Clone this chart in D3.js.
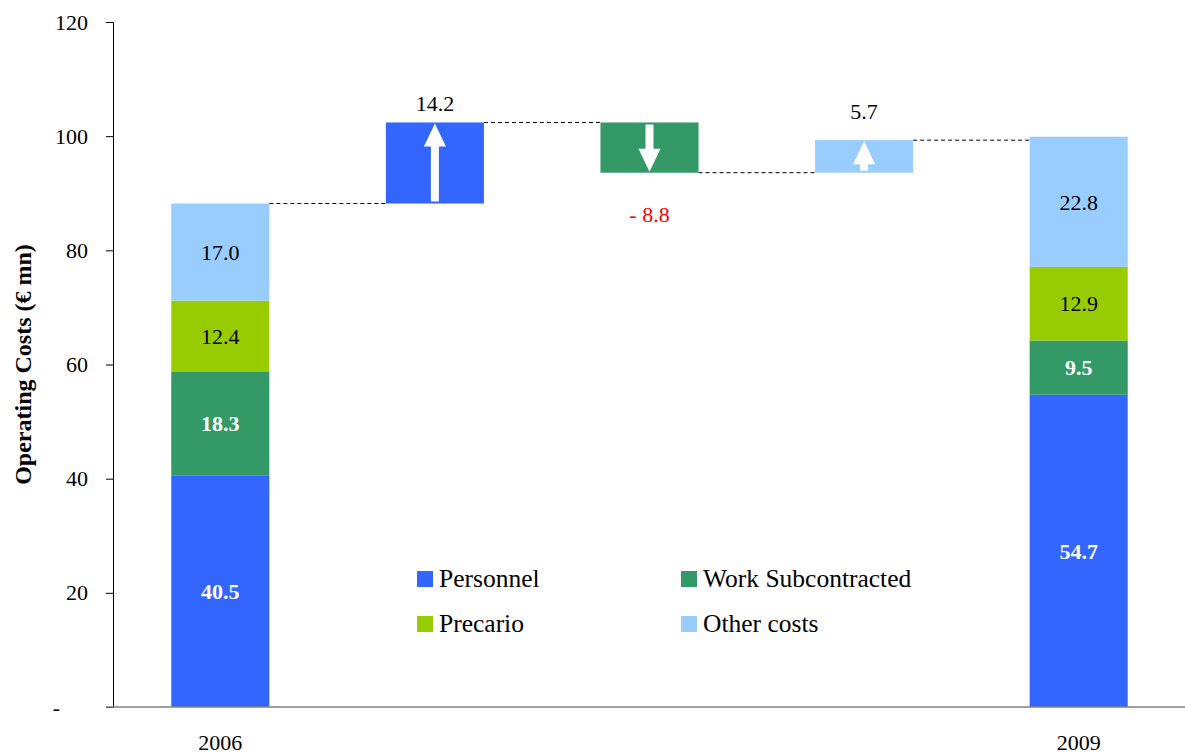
<!DOCTYPE html>
<html>
<head>
<meta charset="utf-8">
<script src="https://cdn.jsdelivr.net/npm/d3@7"></script>
<style>
  body { margin: 0; background: #fff; }
  svg text { font-family: "Liberation Serif", "Times New Roman", serif; }
</style>
</head>
<body>
<div id="chart"></div>
<script>
// data
const categories = ["2006", "d1", "d2", "d3", "2009"]
const xLabels = ["2006", "", "", "", "2009"]
const components = ["Personnel", "Work Subcontracted", "Precario", "Other costs"]
const colors = ["#3366FF", "#339966", "#99CC00", "#99CCFF"]
const values2006 = [40.5, 18.3, 12.4, 17.0]
const values2009 = [54.7, 9.5, 12.9, 22.8]
// waterfall steps between the two years
const deltaCats = ["d1", "d2", "d3"]
const deltaComponent = ["Personnel", "Work Subcontracted", "Other costs"]
const deltaValues = [14.2, -8.8, 5.7]
const yTicks = [0, 20, 40, 60, 80, 100, 120]

const width = 1185
const height = 754
const margin = {top: 22, right: 0, bottom: 47, left: 113}

const svg = d3.select("#chart")
  .append("svg")
  .attr("width", width)
  .attr("height", height)

const y = d3.scaleLinear()
  .domain([0, 120])
  .range([height - margin.bottom, margin.top])

const x = d3.scaleBand()
  .domain(categories)
  .range([margin.left, 1186])
  .paddingInner(0.543)
  .paddingOuter(0.2715)

const color = d3.scaleOrdinal()
  .domain(components)
  .range(colors)

// stacked year bars
function stackYear(cat, vals) {
  let base = 0
  return vals.map((v, i) => {
    const d = {cat, key: components[i], y0: base, y1: base + v, v}
    base += v
    return d
  })
}
const stacks = stackYear("2006", values2006).concat(stackYear("2009", values2009))

svg.selectAll("rect.seg")
  .data(stacks)
  .join("rect")
  .attr("class", "seg")
  .attr("x", d => x(d.cat))
  .attr("width", x.bandwidth())
  .attr("y", d => y(d.y1))
  .attr("height", d => y(d.y0) - y(d.y1))
  .attr("fill", d => color(d.key))

const dark = k => k == "Personnel" || k == "Work Subcontracted"

svg.selectAll("text.seg")
  .data(stacks)
  .join("text")
  .attr("class", "seg")
  .attr("x", d => x(d.cat) + x.bandwidth() / 2)
  .attr("y", d => y((d.y0 + d.y1) / 2))
  .attr("dy", "0.35em")
  .attr("text-anchor", "middle")
  .style("font-size", "22px")
  .style("font-weight", d => dark(d.key) ? "bold" : "normal")
  .style("fill", d => dark(d.key) ? "white" : "black")
  .text(d => d.v.toFixed(1))

// waterfall deltas
let running = d3.sum(values2006)
const deltas = deltaValues.map((v, i) => {
  const d = {cat: deltaCats[i], key: deltaComponent[i], start: running, end: running + v, v}
  running += v
  return d
})

svg.selectAll("rect.delta")
  .data(deltas)
  .join("rect")
  .attr("class", "delta")
  .attr("x", d => x(d.cat))
  .attr("width", x.bandwidth())
  .attr("y", d => y(Math.max(d.start, d.end)))
  .attr("height", d => Math.abs(y(d.start) - y(d.end)))
  .attr("fill", d => color(d.key))

// white arrows inside the delta bars
svg.selectAll("path.arrow")
  .data(deltas)
  .join("path")
  .attr("class", "arrow")
  .attr("fill", "white")
  .attr("d", d => {
    const cx = x(d.cat) + x.bandwidth() / 2
    const dir = d.end > d.start ? -1 : 1
    const from = y(d.start) + dir * 2
    const to = y(d.end) - dir * 1
    const headLen = 23
    const neck = to - dir * headLen
    return `M${cx - 4},${from} L${cx - 4},${neck} L${cx - 11},${neck} L${cx},${to} L${cx + 11},${neck} L${cx + 4},${neck} L${cx + 4},${from} Z`
  })

svg.selectAll("text.delta")
  .data(deltas)
  .join("text")
  .attr("class", "delta")
  .attr("x", d => x(d.cat) + x.bandwidth() / 2)
  .attr("y", (d, i) => d.v < 0 ? y(d.end) + 49 : y(d.end) - (i == 0 ? 11 : 21))
  .attr("text-anchor", "middle")
  .style("font-size", "22px")
  .style("fill", d => d.v > 0 ? "black" : "red")
  .text(d => d.v > 0 ? d.v.toFixed(1) : "- " + Math.abs(d.v).toFixed(1))

// dashed connectors
const steps = [{cat: "2006", level: d3.sum(values2006)}]
  .concat(deltas.map(d => ({cat: d.cat, level: d.end})))
const connectors = steps.map((s, i) => ({
  x1: x(s.cat) + x.bandwidth(),
  x2: x(categories[i + 1]),
  level: s.level
}))

svg.selectAll("line.conn")
  .data(connectors)
  .join("line")
  .attr("class", "conn")
  .attr("x1", d => d.x1)
  .attr("x2", d => d.x2)
  .attr("y1", d => y(d.level))
  .attr("y2", d => y(d.level))
  .attr("stroke", "black")
  .attr("stroke-width", 1)
  .attr("stroke-dasharray", "4,3")

// axes
const yAxis = svg.append("g")
  .attr("transform", `translate(${margin.left},0)`)
  .call(d3.axisLeft(y).tickValues(yTicks).tickSize(7).tickPadding(18)
    .tickFormat(d => d == 0 ? "-" : d))
yAxis.select(".domain").attr("stroke", "black")
yAxis.selectAll(".tick line").attr("stroke", "black")
yAxis.selectAll("text")
  .style("font-size", "22px")
  .style("fill", "#000")
yAxis.select(".tick text").attr("dx", "-28")

svg.append("line")
  .attr("x1", 106)
  .attr("x2", width)
  .attr("y1", y(0))
  .attr("y2", y(0))
  .attr("stroke", "#808080")
  .attr("stroke-width", 1.5)

svg.selectAll("text.xlab")
  .data(categories)
  .join("text")
  .attr("class", "xlab")
  .attr("x", d => x(d) + x.bandwidth() / 2)
  .attr("y", height - 4)
  .attr("text-anchor", "middle")
  .style("font-size", "22px")
  .text((d, i) => xLabels[i])

svg.append("text")
  .attr("transform", `translate(31, ${(margin.top + y(0)) / 2}) rotate(-90)`)
  .attr("text-anchor", "middle")
  .style("font-size", "24px")
  .style("font-weight", "bold")
  .text("Operating Costs (€ mn)")

// legend
const legend = svg.append("g")
  .selectAll("g")
  .data(components)
  .join("g")
  .attr("transform", (d, i) => `translate(${417 + (i % 2) * 264}, ${571 + Math.floor(i / 2) * 45})`)

legend.append("rect")
  .attr("width", 16)
  .attr("height", 16)
  .attr("fill", d => color(d))

legend.append("text")
  .attr("x", 22)
  .attr("y", 16)
  .style("font-size", "25.5px")
  .text(d => d)
</script>
</body>
</html>
